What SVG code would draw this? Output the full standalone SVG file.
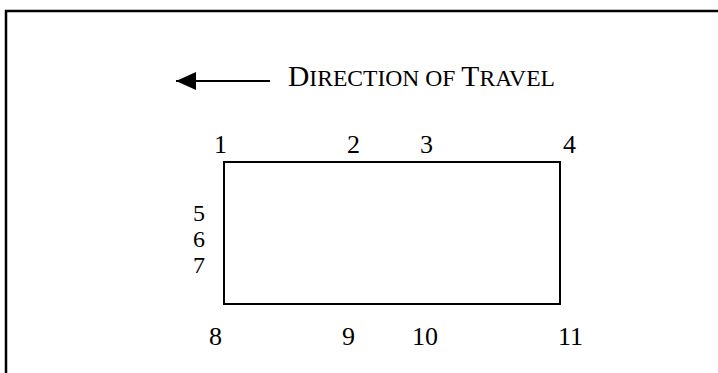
<svg xmlns="http://www.w3.org/2000/svg" width="718" height="373" viewBox="0 0 718 373">
<style>
.t{font-family:"Liberation Serif","Times New Roman",serif;fill:#000}
.n{font-size:26px}
.s{font-size:24px}
</style>
<defs>
<marker id="ah" markerWidth="20" markerHeight="18" refX="20" refY="9" orient="auto" markerUnits="userSpaceOnUse">
<path d="M0,0 L20,9 L0,18 Z" fill="#000"/>
</marker>
</defs>
<rect width="718" height="373" fill="#fff"/>
<g id="frame"><rect x="6" y="11" width="730" height="380" fill="none" stroke="#000" stroke-width="2.5"/></g>
<g id="connectors">
<line x1="270" y1="81" x2="176" y2="81" stroke="#000" stroke-width="2" marker-end="url(#ah)"/>
</g>
<g id="title"><text class="t" x="288" y="86"><tspan font-size="29.5">D</tspan><tspan font-size="23.6">IRECTION OF </tspan><tspan font-size="29.5">T</tspan><tspan font-size="23.6">RAVEL</tspan></text></g>
<g id="box"><rect x="224" y="162" width="336" height="142" fill="none" stroke="#000" stroke-width="2"/></g>
<g id="labels">
<text class="t n" x="214" y="153">1</text>
<text class="t n" x="347" y="153">2</text>
<text class="t n" x="420" y="153">3</text>
<text class="t n" x="563" y="153">4</text>
<text class="t s" x="193" y="221">5</text>
<text class="t s" x="193" y="247">6</text>
<text class="t s" x="193" y="273">7</text>
<text class="t n" x="209" y="345">8</text>
<text class="t n" x="342" y="345">9</text>
<text class="t n" x="412" y="345">10</text>
<text class="t n" x="558" y="345">11</text>
</g>
</svg>
